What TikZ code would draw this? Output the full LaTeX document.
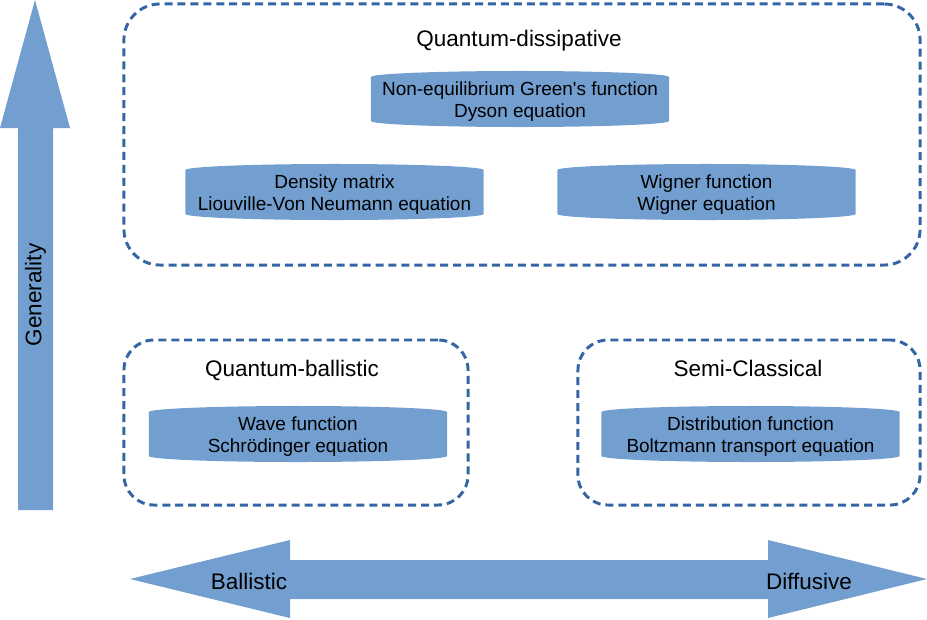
\documentclass[tikz,border=0pt]{standalone}
\usepackage{fontspec}
\setmainfont{Liberation Sans}
\usepackage{xcolor}
\usepackage{tikz}
\usetikzlibrary{positioning}
\definecolor{qt_sky}{RGB}{114,159,207}
\definecolor{qt_navy}{RGB}{52,101,164}

\begin{document}
\begin{tikzpicture}[x=0.025cm, y=-0.025cm,
          regime/.style={draw=qt_navy, line width=2.1pt, dash pattern=on 5.7pt off 3.5pt,
                         rounded corners=0.9cm, inner sep=0pt},
          title/.style={font=\fontsize{16}{19}\selectfont, inner sep=0pt},
          drum/.style={minimum width=7.45cm, minimum height=1.7cm, inner sep=0pt, align=center,
                       font=\fontsize{13.5}{15.6}\selectfont,
                       path picture={\fill[qt_sky]
                         ([shift={(-3.725cm,0.625cm)}]path picture bounding box.center)
                         arc[start angle=180, end angle=0, x radius=3.725cm, y radius=0.15cm]
                         -- ++(0,-1.1cm)
                         arc[start angle=0, end angle=-180, x radius=3.725cm, y radius=0.15cm]
                         -- cycle;}}]
        \useasboundingbox (0,0) rectangle (927,619);
        % axes
        \fill[qt_sky] (35,0) -- (70,128) -- (53,128) -- (53,510) -- (18,510) -- (18,128)
          -- (0,128) -- cycle;
        \fill[qt_sky] (130,579) -- (290,540) -- (290,560) -- (768,560) -- (768,540)
          -- (927,579) -- (768,618) -- (768,599) -- (290,599) -- (290,618) -- cycle;
        \node[title, rotate=90] (gen)  at (35.5,295) {Generality};
        \node[title] (ball) at (249,581.5) {Ballistic};
        \node[title] (diff) at (809,581) {Diffusive};
        % regimes
        \node[regime, minimum width=19.9cm, minimum height=6.525cm] (qdiss) at (522,134.5) {};
        \node[regime, rounded corners=0.75cm, minimum width=8.6cm, minimum height=4.125cm]
          (qball) at (296,422.5) {};
        \node[regime, rounded corners=0.75cm, minimum width=8.55cm, minimum height=4.125cm]
          (semi) at (749,422.5) {};
        \node[title] (qdisst) at (519,41) {Quantum-dissipative};
        \node[title] (qballt) at (292,370) {Quantum-ballistic};
        \node[title] (semit)  at (748,368) {Semi-Classical};
        % models
        \node[drum] (negf)    at (520,102)   {Non-equilibrium Green\textquotesingle s function\\Dyson equation};
        \node[drum] (density) at (334.5,195) {Density matrix\\Liouville-Von Neumann equation};
        \node[drum] (wigner)  at (706.5,195) {Wigner function\\Wigner equation};
        \node[drum] (wave)    at (298,437)   {Wave function\\Schrödinger equation};
        \node[drum] (distrib) at (750.5,437) {Distribution function\\Boltzmann transport equation};
      \end{tikzpicture}
\end{document}
